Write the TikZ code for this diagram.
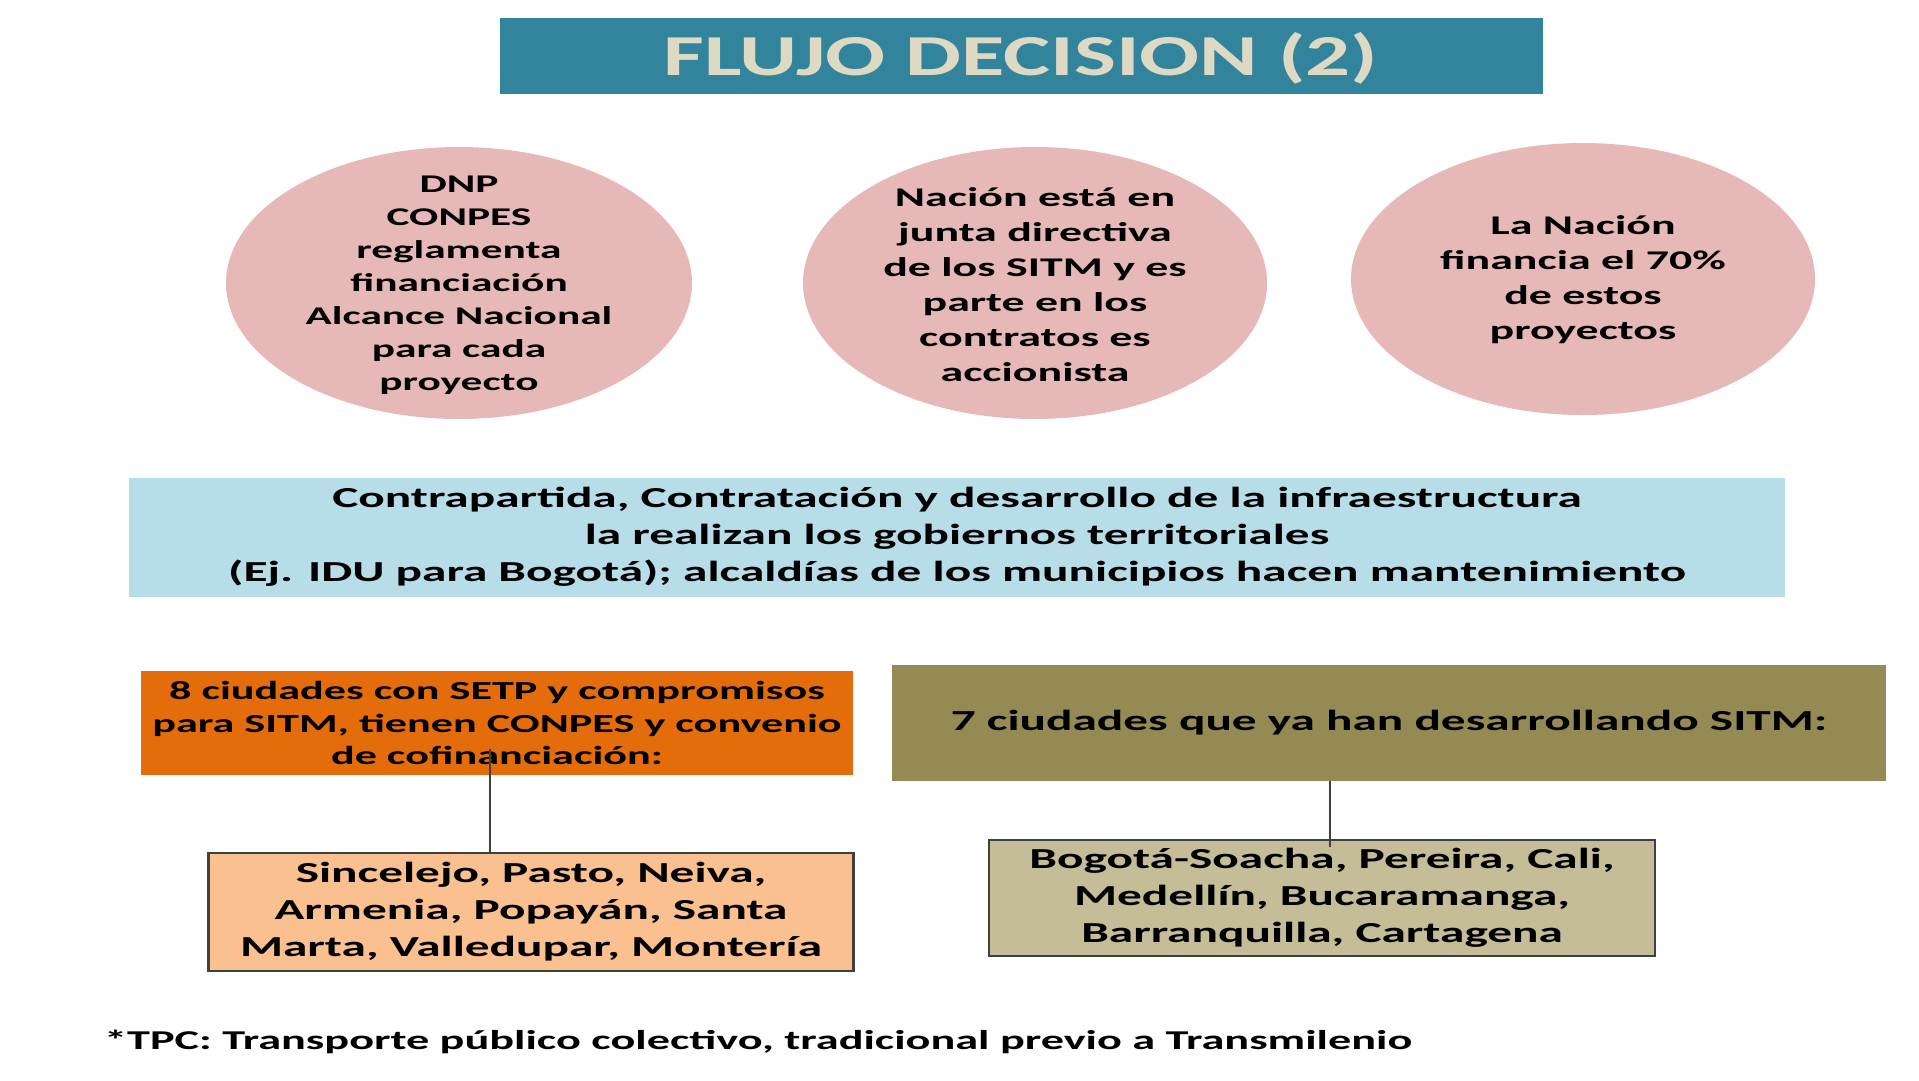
\documentclass[tikz,border=0pt]{standalone}
\usepackage{fontspec}
\setmainfont{Carlito}[FakeStretch=1.7]
\newfontfamily\titlefont{Carlito}[FakeStretch=1.53]
\usetikzlibrary{shapes.geometric}

\definecolor{titleblue}{RGB}{49,132,155}
\definecolor{titlecream}{RGB}{221,217,195}
\definecolor{bubblepink}{RGB}{230,185,184}
\definecolor{barblue}{RGB}{183,222,232}
\definecolor{orangedark}{RGB}{228,108,10}
\definecolor{orangelight}{RGB}{250,192,144}
\definecolor{olivedark}{RGB}{148,138,84}
\definecolor{olivelight}{RGB}{196,189,151}
\definecolor{linegray}{RGB}{64,64,64}

\begin{document}
\begin{tikzpicture}[x=1pt,y=1pt,yscale=-1,
  bubbletext/.style={align=center,inner sep=0pt,font=\fontsize{25.5}{33}\selectfont\bfseries},
  box/.style={rectangle,inner sep=0pt,align=center,font=\fontsize{29}{37}\selectfont\bfseries},
  link/.style={draw=linegray,line width=2pt}]
\useasboundingbox (0,0) rectangle (1919,1080);

%Shape: Title bar
\node [box,fill=titleblue,minimum width=1043,minimum height=76,text depth=4pt,text=titlecream,font=\fontsize{58}{60}\selectfont\titlefont\bfseries] (title) at (1021,56) {FLUJO DECISION (2)};

%Shape: Ellipses
\fill [bubblepink] (459,283) ellipse [x radius=233,y radius=136];
\fill [bubblepink] (1035,283) ellipse [x radius=232,y radius=136];
\fill [bubblepink] (1583,279) ellipse [x radius=232,y radius=136];

% Text Node
\node [bubbletext] (dnp) at (459,285) {DNP\\CONPES\\reglamenta\\financiación\\Alcance Nacional\\para cada\\proyecto};
% Text Node
\node [bubbletext,font=\fontsize{27}{35}\selectfont\bfseries] (junta) at (1035,285) {Nación está en\\junta directiva\\de los SITM y es\\parte en los\\contratos es\\accionista};
% Text Node
\node [bubbletext,font=\fontsize{27}{35}\selectfont\bfseries] (nacion) at (1583,280) {La Nación\\financia el 70\%\\de estos\\proyectos};

%Shape: Bar
\node [box,fill=barblue,minimum width=1656,minimum height=119] (contra) at (957,537) {Contrapartida, Contratación y desarrollo de la infraestructura\\la realizan los gobiernos territoriales\\(Ej. IDU para Bogotá); alcaldías de los municipios hacen mantenimiento};

%Shape: Boxes, left
\node [box,fill=orangedark,minimum width=712,minimum height=104,font=\fontsize{26}{32.5}\selectfont\bfseries] (ocho) at (497,723) {8 ciudades con SETP y compromisos\\para SITM, tienen CONPES y convenio\\de cofinanciación:};
\node [box,fill=orangelight,draw=linegray,line width=2.5pt,minimum width=645,minimum height=118] (sincelejo) at (531,912) {Sincelejo, Pasto, Neiva,\\Armenia, Popayán, Santa\\Marta, Valledupar, Montería};

%Shape: Boxes, right
\node [box,fill=olivedark,minimum width=994,minimum height=116] (siete) at (1389,723) {7 ciudades que ya han desarrollando SITM:};
\node [box,fill=olivelight,draw=linegray,line width=2.5pt,minimum width=666,minimum height=116] (bogota) at (1322,898) {Bogotá-Soacha, Pereira, Cali,\\Medellín, Bucaramanga,\\Barranquilla, Cartagena};

%Straight Lines
\draw [link] ([xshift=-7pt,yshift=-26pt]ocho.south) -- ([xshift=-7pt]ocho.south |- sincelejo.north);
\draw [link] ([xshift=8pt]bogota.north |- siete.south) -- ([xshift=8pt,yshift=8pt]bogota.north);

% Text Node
\node [anchor=west,inner sep=0pt,font=\fontsize{27.2}{30}\selectfont\bfseries] (tpc) at (104,1042) {*TPC: Transporte público colectivo, tradicional previo a Transmilenio};

\end{tikzpicture}
\end{document}
